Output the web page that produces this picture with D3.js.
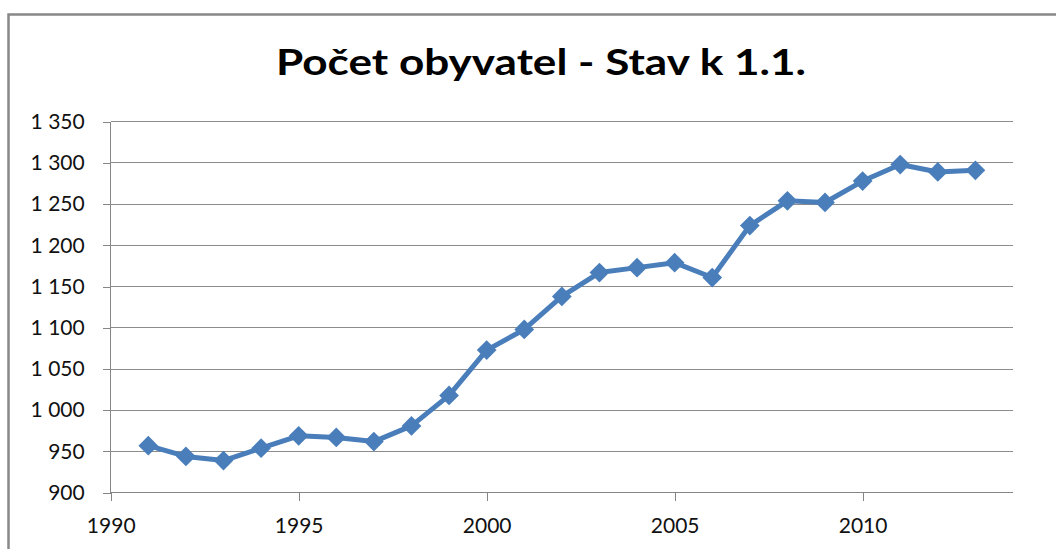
<!DOCTYPE html>
<html>
<head>
<meta charset="utf-8">
<script src="https://cdn.jsdelivr.net/npm/d3@7"></script>
<style>
  body { margin: 0; background: #fff; }
  svg { display: block; }
  text { font-family: Lato, "Open Sans", sans-serif; }
</style>
</head>
<body>
<svg id="chart" width="1056" height="549"></svg>
<script>
// values (population as of 1 Jan)
const years = [1991, 1992, 1993, 1994, 1995, 1996, 1997, 1998, 1999, 2000, 2001, 2002,
  2003, 2004, 2005, 2006, 2007, 2008, 2009, 2010, 2011, 2012, 2013];
const population = [957, 944, 939, 954, 969, 967, 962, 981, 1018, 1073, 1098, 1138,
  1167, 1173, 1179, 1161, 1224, 1254, 1252, 1278, 1298, 1289, 1291];
const xTicks = [1990, 1995, 2000, 2005, 2010];
const yTicks = [900, 950, 1000, 1050, 1100, 1150, 1200, 1250, 1300, 1350];
const title = "Počet obyvatel - Stav k 1.1.";

const data = years.map((y, i) => ({ year: y, value: population[i] }));

const svg = d3.select("#chart");
const margin = { top: 121.7, left: 110.7, right: 1013, bottom: 492.7 };

const x = d3.scaleLinear().domain([1990, 2014]).range([margin.left, margin.right]);
const y = d3.scaleLinear().domain([900, 1350]).range([margin.bottom, margin.top]);

const cz = d3.formatLocale({ decimal: ",", thousands: "\u00a0", grouping: [3], currency: ["", ""] });
const fmt = cz.format(",d");

// outer chart frame
svg.append("rect")
  .attr("x", 8.5).attr("y", 14.5)
  .attr("width", 1060).attr("height", 560)
  .attr("fill", "none")
  .attr("stroke", "#888")
  .attr("stroke-width", 2.5);

svg.append("text")
  .attr("x", 541).attr("y", 75)
  .attr("text-anchor", "middle")
  .attr("font-size", 37)
  .attr("font-weight", "bold")
  .attr("textLength", 530)
  .attr("lengthAdjust", "spacingAndGlyphs")
  .text(title);

// horizontal gridlines
svg.append("g")
  .selectAll("line")
  .data(yTicks)
  .join("line")
  .attr("x1", margin.left).attr("x2", margin.right)
  .attr("y1", (d) => y(d)).attr("y2", (d) => y(d))
  .attr("stroke", "#8c8c8c")
  .attr("shape-rendering", "crispEdges");

const yAxis = d3.axisLeft(y).tickValues(yTicks).tickFormat(fmt).tickSize(8).tickPadding(18);
const gy = svg.append("g").attr("transform", "translate(" + margin.left + ",0)").call(yAxis);

const xAxis = d3.axisBottom(x).tickValues(xTicks).tickFormat(d3.format("d")).tickSize(8).tickPadding(17);
const gx = svg.append("g").attr("transform", "translate(0," + margin.bottom + ")").call(xAxis);

[gy, gx].forEach((g) => {
  g.select(".domain").attr("stroke", "#868686").attr("shape-rendering", "crispEdges");
  g.selectAll(".tick line").attr("stroke", "#868686").attr("shape-rendering", "crispEdges");
  g.selectAll(".tick text")
    .attr("font-family", "Lato, sans-serif")
    .attr("font-size", 21)
    .attr("fill", "#111");
});
gx.select(".domain").attr("d", "M" + margin.left + ",0H" + margin.right);
gy.select(".domain").attr("d", "M0," + margin.bottom + "V" + margin.top);

const line = d3.line().x((d) => x(d.year)).y((d) => y(d.value));

svg.append("path")
  .datum(data)
  .attr("d", line)
  .attr("fill", "none")
  .attr("stroke", "#4a7ebb")
  .attr("stroke-width", 5)
  .attr("stroke-linejoin", "round");

const marker = d3.symbol().type(d3.symbolSquare).size(195);

svg.append("g")
  .selectAll("path")
  .data(data)
  .join("path")
  .attr("d", marker)
  .attr("transform", (d) => "translate(" + x(d.year) + "," + y(d.value) + ") rotate(45)")
  .attr("fill", "#4a7ebb");
</script>
</body>
</html>
